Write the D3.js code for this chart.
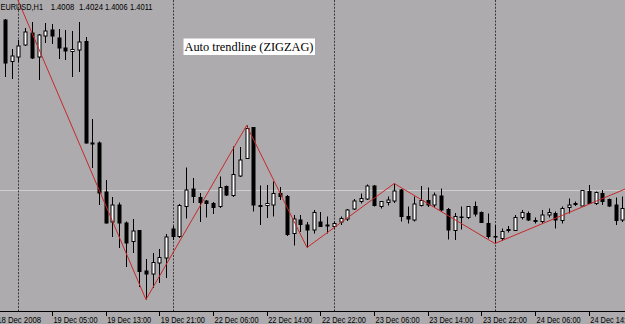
<!DOCTYPE html>
<html>
<head>
<meta charset="utf-8">
<script src="https://cdn.jsdelivr.net/npm/d3@7"></script>
<style>
  html, body { margin: 0; padding: 0; background: #adabad; }
  svg { display: block; }
</style>
</head>
<body>
<div id="chart"></div>
<script>
const width = 625;
const height = 324;
const axisY = 311.5;

// EURUSD H1 bars, 18 Dec 2008 22:00 onwards (index 0 = first visible bar)
const open = [1.4350,1.4267,1.4276,1.4300,1.4324,1.4276,1.4318,1.4330,1.4314,1.4294,
  1.4287,1.4290,1.4307,1.4104,1.4104,1.4006,1.3946,1.3980,1.3944,1.3907,
  1.3929,1.3848,1.3842,1.3864,1.3874,1.3932,1.3917,1.3977,1.4012,1.3995,
  1.3988,1.3983,1.3977,1.4017,1.3999,1.4038,1.4073,1.4135,1.3979,1.3979,
  1.3980,1.4003,1.3997,1.3923,1.3950,1.3940,1.3930,1.3946,1.3938,1.3937,
  1.3946,1.3952,1.3972,1.3987,1.3992,1.4018,1.3977,1.3985,1.3988,1.4010,
  1.3957,1.3950,1.3979,1.3989,1.3980,1.3998,1.3971,1.3929,1.3956,1.3955,
  1.3977,1.3965,1.3943,1.3917,1.3913,1.3931,1.3929,1.3955,1.3963,1.3949,
  1.3947,1.3960,1.3963,1.3949,1.3975,1.3983,1.3978,1.4007,1.3983,1.4003,
  1.3991,1.3980,1.3950];
const high = [1.4352,1.4292,1.4310,1.4334,1.4346,1.4322,1.4344,1.4342,1.4332,1.4330,
  1.4328,1.4346,1.4316,1.4152,1.4107,1.4030,1.3996,1.3985,1.3947,1.3952,
  1.3930,1.3872,1.3884,1.3892,1.3922,1.3938,1.3982,1.4055,1.4034,1.4004,
  1.3990,1.3986,1.4037,1.4019,1.4097,1.4096,1.4139,1.4136,1.4019,1.4020,
  1.4027,1.4016,1.4000,1.3960,1.3960,1.3946,1.3970,1.3966,1.3957,1.3947,
  1.3957,1.3972,1.3992,1.4003,1.4021,1.4020,1.3988,1.3997,1.4023,1.4012,
  1.3977,1.3997,1.4018,1.4015,1.4005,1.4013,1.3974,1.3964,1.3977,1.3978,
  1.3987,1.3967,1.3963,1.3940,1.3933,1.3938,1.3960,1.3970,1.3967,1.3955,
  1.3970,1.3973,1.3967,1.3977,1.3993,1.3987,1.4010,1.4020,1.4007,1.4010,
  1.3993,1.3995,1.3997];
const low = [1.4236,1.4232,1.4266,1.4298,1.4272,1.4230,1.4304,1.4302,1.4272,1.4270,
  1.4236,1.4246,1.4103,1.4054,1.3980,1.3943,1.3916,1.3894,1.3856,1.3884,
  1.3816,1.3791,1.3814,1.3824,1.3834,1.3910,1.3914,1.3953,1.3984,1.3946,
  1.3955,1.3962,1.3974,1.3998,1.3996,1.4036,1.4072,1.3967,1.3940,1.3954,
  1.3957,1.3990,1.3918,1.3899,1.3926,1.3895,1.3923,1.3936,1.3923,1.3933,
  1.3940,1.3948,1.3970,1.3983,1.3990,1.3977,1.3973,1.3979,1.3984,1.3947,
  1.3943,1.3947,1.3977,1.3976,1.3976,1.3966,1.3911,1.3910,1.3931,1.3952,
  1.3957,1.3944,1.3913,1.3903,1.3908,1.3925,1.3928,1.3951,1.3948,1.3943,
  1.3943,1.3955,1.3933,1.3943,1.3963,1.3978,1.3977,1.3982,1.3980,1.3980,
  1.3976,1.3940,1.3946];
const close = [1.4264,1.4278,1.4298,1.4326,1.4274,1.4320,1.4328,1.4318,1.4294,1.4288,
  1.4291,1.4306,1.4104,1.4102,1.4004,1.3944,1.3980,1.3944,1.3904,1.3928,
  1.3847,1.3842,1.3865,1.3875,1.3916,1.3917,1.3979,1.4010,1.3997,1.3985,
  1.3983,1.3975,1.4015,1.4000,1.4041,1.4070,1.4133,1.3980,1.3977,1.3983,
  1.4003,1.3997,1.3921,1.3952,1.3941,1.3930,1.3965,1.3937,1.3940,1.3943,
  1.3953,1.3970,1.3988,1.3993,1.4018,1.3979,1.3987,1.3990,1.4008,1.3957,
  1.3952,1.3982,1.3989,1.3980,1.4000,1.3970,1.3930,1.3957,1.3955,1.3977,
  1.3962,1.3945,1.3917,1.3916,1.3927,1.3929,1.3955,1.3965,1.3950,1.3947,
  1.3960,1.3965,1.3950,1.3973,1.3980,1.3981,1.4009,1.3983,1.4005,1.3987,
  1.3978,1.3949,1.3973];

// zigzag turning points (bar index, price); first and last lie outside the window
const zzIndex = [-2, 21, 36, 45, 58, 73, 96];
const zzPrice = [1.4513, 1.3791, 1.4139, 1.3895, 1.4023, 1.3903, 1.4032];

const tickIndex = [-1.4, 7, 15, 23, 31, 39, 47, 55, 63, 71, 79, 87];
const tickLabels = ["18 Dec 2008", "19 Dec 05:00", "19 Dec 13:00", "19 Dec 21:00",
  "22 Dec 06:00", "22 Dec 14:00", "22 Dec 22:00", "23 Dec 06:00",
  "23 Dec 14:00", "23 Dec 22:00", "24 Dec 06:00", "24 Dec 14:00"];
const dayStarts = [2, 25, 49, 73];
const bid = 1.4011;
const header = ["EURUSD,H1", "1.4008", "1.4024", "1.4006", "1.4011"];

const svg = d3.select("#chart").append("svg")
  .attr("width", width)
  .attr("height", height);

svg.append("rect").attr("width", width).attr("height", height).attr("fill", "#adabad");

const x = d3.scaleLinear().domain([0, 92]).range([5.03, 622.35]);
const y = d3.scaleLinear().domain([1.4390, 1.3790]).range([0, 300]);
const px = i => Math.round(x(i)) + 0.5;

const plot = svg.append("g");

// bid line
plot.append("line")
  .attr("x1", 0).attr("x2", width)
  .attr("y1", Math.round(y(bid)) + 0.5).attr("y2", Math.round(y(bid)) + 0.5)
  .attr("stroke", "#cfcfd0");

// period separators
plot.selectAll(".sep")
  .data(dayStarts)
  .join("line")
  .attr("class", "sep")
  .attr("x1", d => px(d)).attr("x2", d => px(d))
  .attr("y1", 0).attr("y2", axisY)
  .attr("stroke", "#3a3a3a")
  .attr("stroke-dasharray", "2,1.4");

const bars = open.map((o, i) => ({i, o, h: high[i], l: low[i], c: close[i]}));

plot.selectAll(".wick")
  .data(bars)
  .join("line")
  .attr("class", "wick")
  .attr("x1", d => px(d.i)).attr("x2", d => px(d.i))
  .attr("y1", d => y(d.h)).attr("y2", d => y(d.l))
  .attr("stroke", "#000");

plot.selectAll(".body")
  .data(bars)
  .join("rect")
  .attr("class", "body")
  .attr("x", d => px(d.i) - 1.5)
  .attr("width", 3)
  .attr("y", d => y(Math.max(d.o, d.c)))
  .attr("height", d => Math.max(0.5, Math.abs(y(d.o) - y(d.c))))
  .attr("fill", d => d.c >= d.o ? "#fff" : "#000")
  .attr("stroke", "#000");

// zigzag
plot.append("path")
  .datum(zzIndex.map((d, k) => [d, zzPrice[k]]))
  .attr("fill", "none")
  .attr("stroke", "#c8282a")
  .attr("stroke-width", 1)
  .attr("d", d3.line().x(d => x(d[0])).y(d => y(d[1])));

// time axis
svg.append("line")
  .attr("x1", 0).attr("x2", width)
  .attr("y1", axisY).attr("y2", axisY)
  .attr("stroke", "#000");

svg.selectAll(".tick")
  .data(tickIndex.filter(d => d >= 0))
  .join("line")
  .attr("class", "tick")
  .attr("x1", d => px(d)).attr("x2", d => px(d))
  .attr("y1", axisY).attr("y2", axisY + 4.5)
  .attr("stroke", "#000");

svg.selectAll(".tlabel")
  .data(tickIndex)
  .join("text")
  .attr("class", "tlabel")
  .attr("x", d => x(d) + 1.5)
  .attr("y", 323)
  .attr("font-family", "Liberation Sans, Arial, sans-serif")
  .attr("font-size", 9)
  .attr("textLength", 44)
  .attr("lengthAdjust", "spacingAndGlyphs")
  .attr("fill", "#000")
  .text((d, k) => tickLabels[k]);

// header
const headX = [0.5, 50.7, 79, 105, 130];
const headW = [42.5, 23.5, 24, 22.5, 22.5];
svg.selectAll(".head")
  .data(header)
  .join("text")
  .attr("class", "head")
  .attr("x", (d, k) => headX[k])
  .attr("y", 9.5)
  .attr("font-family", "Liberation Sans, Arial, sans-serif")
  .attr("font-size", 9)
  .attr("textLength", (d, k) => headW[k])
  .attr("lengthAdjust", "spacingAndGlyphs")
  .attr("fill", "#000")
  .text(d => d);

// text label object
svg.append("rect")
  .attr("x", 183.5).attr("y", 38.5)
  .attr("width", 131.5).attr("height", 16.5)
  .attr("fill", "#fff");
svg.append("text")
  .attr("x", 184.5)
  .attr("y", 50.5)
  .attr("font-family", "Liberation Serif, Times New Roman, serif")
  .attr("font-size", 12.5)
  .attr("textLength", 129)
  .attr("lengthAdjust", "spacingAndGlyphs")
  .attr("fill", "#000")
  .text("Auto trendline (ZIGZAG)");
</script>
</body>
</html>
